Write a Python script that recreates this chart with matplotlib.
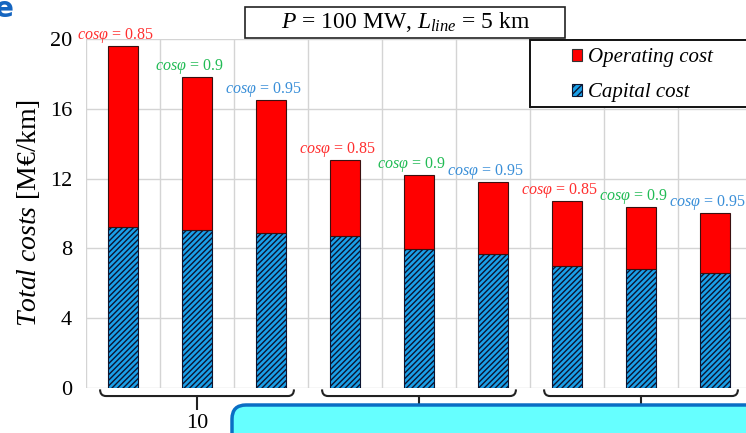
import matplotlib
matplotlib.use("Agg")
import matplotlib.pyplot as plt
from matplotlib.patches import Patch, Rectangle, FancyBboxPatch
from matplotlib.path import Path
from matplotlib.patches import PathPatch
import numpy as np

plt.rcParams['font.family'] = ['Liberation Serif', 'DejaVu Serif']
plt.rcParams['mathtext.fontset'] = 'custom'
plt.rcParams['mathtext.rm'] = 'Liberation Serif'
plt.rcParams['mathtext.it'] = 'Liberation Serif:italic'
plt.rcParams['hatch.linewidth'] = 1.0

# values (M€/km)
capital = [9.2, 9.05, 8.9, 8.71, 7.95, 7.66, 7.01, 6.8, 6.57]
total = [19.6, 17.84, 16.5, 13.07, 12.2, 11.79, 10.72, 10.35, 10.05]
pf_labels = ["0.85", "0.9", "0.95"] * 3
pf_colors = ["#ff3030", "#22bb55", "#3a8fd8"] * 3
group_labels = ["10"]
group_centers = [1, 4, 7]

operating = [t - c for t, c in zip(total, capital)]
x = np.arange(len(capital))

fig = plt.figure(figsize=(7.46, 4.33), dpi=100)
ax = fig.add_axes([86 / 746, 1 - 388 / 433, 666 / 746, (388 - 39) / 433])

ax.bar(x, capital, width=0.405, color="#1aa0e8", edgecolor="#0c1430",
       hatch="//////", linewidth=0.8, zorder=3)
ax.bar(x, operating, width=0.405, bottom=capital, color="#ff0000",
       edgecolor="#3a1010", linewidth=0.8, zorder=3)

for i in range(len(x)):
    ax.text(x[i] - 0.1, total[i] + 0.06, r"$\mathit{cos\varphi}$ = " + pf_labels[i],
            color=pf_colors[i], fontsize=11.5, ha="center", va="bottom", zorder=4)

ax.set_xlim(-0.5, 8.5)
ax.set_ylim(0, 20)
ax.set_yticks([0, 4, 8, 12, 16, 20])
ax.set_xticks(np.arange(-0.5, 9, 1))
ax.set_xticklabels([])
ax.tick_params(length=0, labelsize=16, pad=10)
ax.grid(True, color="#d4d4d4", linewidth=1, zorder=0)
for s in ax.spines.values():
    s.set_visible(False)
ax.set_ylabel(r"$\mathit{Total\ costs}$ [M€/km]", fontsize=20, labelpad=6)

# group braces under the axis
for gc in group_centers:
    x0, x1 = gc - 1.31, gc + 1.31
    yt, yb, yc = -0.08, -0.46, -1.26
    verts = [(x0, yt), (x0, yb), (x0 + 0.08, yb),
             (gc - 0.02, yb), (gc, yb), (gc, yc),
             (gc, yb), (gc + 0.02, yb),
             (x1 - 0.08, yb), (x1, yb), (x1, yt)]
    codes = [Path.MOVETO, Path.CURVE3, Path.CURVE3,
             Path.LINETO, Path.LINETO, Path.LINETO,
             Path.MOVETO, Path.LINETO,
             Path.LINETO, Path.CURVE3, Path.CURVE3]
    ax.add_patch(PathPatch(Path(verts, codes), fill=False, edgecolor="#222222",
                           linewidth=1.5, clip_on=False))
for gc, lab in zip(group_centers, group_labels):
    ax.text(gc, -1.5, lab, fontsize=16, ha="center", va="top")

# title box
fig.patches.append(Rectangle((2.45, 3.95), 3.2, 0.31, transform=fig.dpi_scale_trans,
                             facecolor="white", edgecolor="#222222", linewidth=1.2))
fig.text(4.06 / 7.46, 1 - 22 / 433, r"$P$ = 100 MW, $L_{line}$ = 5 km",
         fontsize=17, ha="center", va="center")

# legend
fig.patches.append(Rectangle((5.30, 3.26), 2.5, 0.67, transform=fig.dpi_scale_trans,
                             facecolor="white", edgecolor="#111111", linewidth=1.4,
                             zorder=5))
handles = [Patch(facecolor="#ff0000", edgecolor="#333333", linewidth=0.8),
           Patch(facecolor="#1aa0e8", edgecolor="#0c1430", hatch="/////", linewidth=0.8)]
leg = fig.legend(handles, ["Operating cost", "Capital cost"], loc="upper left",
                 bbox_to_anchor=(572 / 746, 1 - 48 / 433), frameon=False,
                 prop={"style": "italic", "size": 15}, handlelength=0.5,
                 handleheight=0.5, handletextpad=0.25, labelspacing=0.78,
                 borderpad=0, borderaxespad=0)
leg.set_zorder(6)

# overlay box at the bottom and panel letter
fig.patches.append(FancyBboxPatch((2.36, -0.6), 5.5, 0.84,
                                  boxstyle="round,pad=0.04,rounding_size=0.14",
                                  transform=fig.dpi_scale_trans, facecolor="#66ffff",
                                  edgecolor="#0a6ec4", linewidth=2.5, zorder=10))
fig.text(0.006, 1 - 9 / 433, "e", color="#1565c0", fontsize=20, fontweight="bold",
         family="DejaVu Sans", ha="center", va="center")

fig.savefig("out.png", dpi=100)
